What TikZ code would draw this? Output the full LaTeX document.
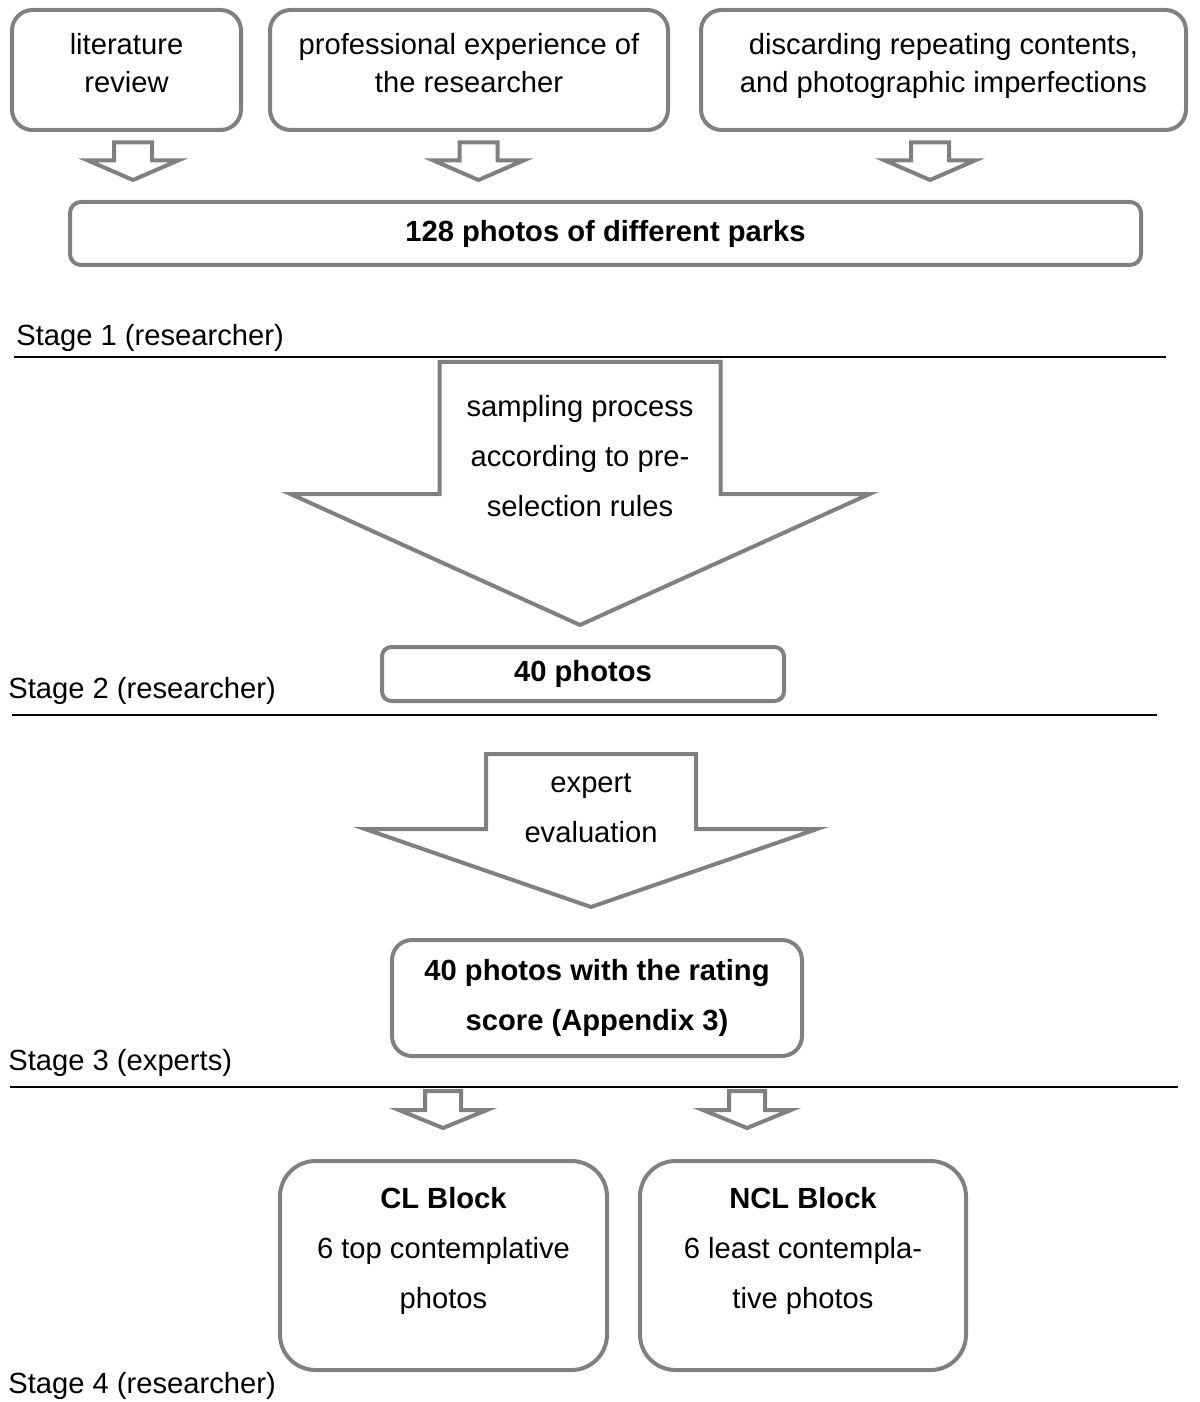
\documentclass[tikz,border=0pt]{standalone}
\usepackage{fontspec}
\setmainfont{Liberation Sans}
\usetikzlibrary{positioning}
\definecolor{grisB}{HTML}{808080}
\tikzset{
  cadre/.style={rectangle, rounded corners=#1, draw=grisB, line width=0.08cm, fill=white,
                align=center, inner sep=0pt, font=\fontsize{16.6}{21.6}\selectfont},
  fleche/.style={draw=grisB, line width=0.08cm, fill=white},
  texte/.style={align=center, inner sep=0pt, font=\fontsize{16.6}{28.5}\selectfont},
  etage/.style={anchor=west, inner sep=0pt, font=\fontsize{16.6}{20}\selectfont},
  sep/.style={draw=black, line width=0.04cm},
}
% x, haut, epaule, pointe, demi-tige, demi-tete
\newcommand{\flechebloc}[6]{%
  \draw[fleche] ({#1-#5},#2) -- ({#1+#5},#2) -- ({#1+#5},#3) -- ({#1+#6},#3)
    -- (#1,#4) -- ({#1-#6},#3) -- ({#1-#5},#3) -- cycle;}

\begin{document}
\begin{tikzpicture}
  \useasboundingbox (0,0) rectangle (24,-28.04);

  \node[cadre=0.41cm, minimum width=4.58cm, minimum height=2.40cm, text depth=0.3cm] (litrev) at (2.53,-1.40)
    {literature\\review};
  \node[cadre=0.41cm, minimum width=7.96cm, minimum height=2.40cm, text depth=0.3cm] (profexp) at (9.38,-1.40)
    {professional experience of\\the researcher};
  \node[cadre=0.41cm, minimum width=9.70cm, minimum height=2.40cm, text depth=0.3cm] (discard) at (18.87,-1.40)
    {discarding repeating contents,\\and photographic imperfections};

  \flechebloc{2.66}{-2.85}{-3.21}{-3.60}{0.38}{0.90}
  \flechebloc{9.57}{-2.85}{-3.21}{-3.60}{0.38}{0.90}
  \flechebloc{18.60}{-2.85}{-3.21}{-3.60}{0.38}{0.90}

  \node[cadre=0.22cm, minimum width=21.42cm, minimum height=1.26cm] (photos128) at (12.11,-4.67)
    {\textbf{128 photos of different parks}};

  \node[etage] (stage1) at (0.32,-6.76) {Stage 1 (researcher)};
  \draw[sep] (0.28,-7.14) -- (23.32,-7.14);

  \flechebloc{11.6}{-7.24}{-9.88}{-12.50}{2.81}{5.79}
  \node[texte] (sampling) at (11.6,-9.12) {sampling process\\according to pre-\\selection rules};

  \node[cadre=0.19cm, minimum width=8.04cm, minimum height=1.08cm] (photos40) at (11.66,-13.48)
    {\textbf{40 photos}};
  \node[etage] (stage2) at (0.16,-13.82) {Stage 2 (researcher)};
  \draw[sep] (0.24,-14.30) -- (23.14,-14.30);

  \flechebloc{11.82}{-15.08}{-16.58}{-18.14}{2.10}{4.52}
  \node[texte] (experteval) at (11.82,-16.16) {expert\\evaluation};

  \node[cadre=0.40cm, texte, minimum width=8.20cm, minimum height=2.32cm] (rated) at (11.94,-19.96)
    {\textbf{40 photos with the rating}\\\textbf{score (Appendix 3)}};
  \node[etage] (stage3) at (0.16,-21.26) {Stage 3 (experts)};
  \draw[sep] (0.20,-21.74) -- (23.56,-21.74);

  \flechebloc{8.86}{-21.82}{-22.20}{-22.56}{0.36}{0.88}
  \flechebloc{14.94}{-21.82}{-22.20}{-22.56}{0.36}{0.88}

  \node[cadre=0.71cm, texte, minimum width=6.54cm, minimum height=4.18cm, text depth=0.7cm] (clblock) at (8.87,-25.31)
    {\textbf{CL Block}\\6 top contemplative\\photos};
  \node[cadre=0.71cm, texte, minimum width=6.52cm, minimum height=4.18cm, text depth=0.7cm] (nclblock) at (16.06,-25.31)
    {\textbf{NCL Block}\\6 least contempla-\\tive photos};
  \node[etage] (stage4) at (0.16,-27.72) {Stage 4 (researcher)};
\end{tikzpicture}
\end{document}
